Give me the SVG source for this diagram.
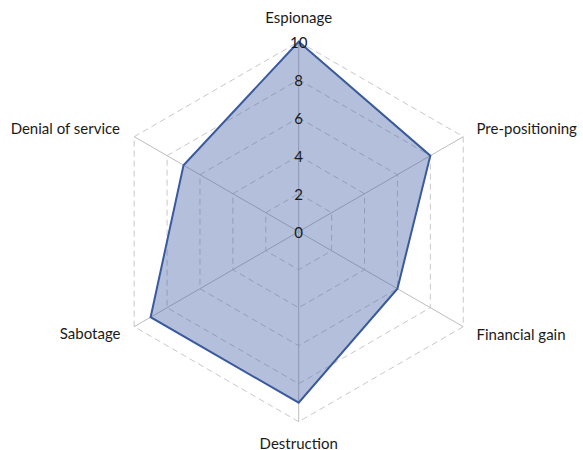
<svg xmlns="http://www.w3.org/2000/svg" width="583" height="450" viewBox="0 0 583 450">
<style>
.ring{fill:none;stroke:#c8c8c8;stroke-width:1;stroke-dasharray:6,4}
.spoke{stroke:#bdbdbd;stroke-width:1;fill:none}
.tick{font-family:Lato,"Open Sans","Liberation Sans",sans-serif;font-size:15px;fill:#1a1a1a;text-anchor:middle;dominant-baseline:central}
.lbl{font-family:Lato,"Open Sans","Liberation Sans",sans-serif;font-size:15px;fill:#1a1a1a}
.data{fill:#415fa5;fill-opacity:0.4;stroke:#3a5a9e;stroke-width:2;stroke-linejoin:miter}
</style>
<rect width="583" height="450" fill="#fff"/>
<g id="grid">
<polygon class="ring" points="298.7,193.7 331.61,212.7 331.61,250.7 298.7,269.7 265.79,250.7 265.79,212.7"/>
<polygon class="ring" points="298.7,155.7 364.52,193.7 364.52,269.7 298.7,307.7 232.88,269.7 232.88,193.7"/>
<polygon class="ring" points="298.7,117.7 397.43,174.7 397.43,288.7 298.7,345.7 199.97,288.7 199.97,174.7"/>
<polygon class="ring" points="298.7,79.7 430.33,155.7 430.33,307.7 298.7,383.7 167.07,307.7 167.07,155.7"/>
<polygon class="ring" points="298.7,41.7 463.24,136.7 463.24,326.7 298.7,421.7 134.16,326.7 134.16,136.7"/>
</g>
<g id="connectors">
<line class="spoke" x1="298.7" y1="231.7" x2="298.7" y2="41.7"/>
<line class="spoke" x1="298.7" y1="231.7" x2="463.24" y2="136.7"/>
<line class="spoke" x1="298.7" y1="231.7" x2="463.24" y2="326.7"/>
<line class="spoke" x1="298.7" y1="231.7" x2="298.7" y2="421.7"/>
<line class="spoke" x1="298.7" y1="231.7" x2="134.16" y2="326.7"/>
<line class="spoke" x1="298.7" y1="231.7" x2="134.16" y2="136.7"/>
</g>
<g id="series">
<polygon class="data" points="298.7,41.7 430.33,155.7 397.43,288.7 298.7,402.7 150.61,317.2 183.52,165.2"/>
</g>
<g id="ticks">
<text class="tick" x="298.7" y="231.7">0</text>
<text class="tick" x="298.7" y="193.7">2</text>
<text class="tick" x="298.7" y="155.7">4</text>
<text class="tick" x="298.7" y="117.7">6</text>
<text class="tick" x="298.7" y="79.7">8</text>
<text class="tick" x="298.7" y="41.7">10</text>
</g>
<g id="espionage"><text class="lbl" x="298.7" y="23" text-anchor="middle">Espionage</text></g>
<g id="pre-positioning"><text class="lbl" x="476.5" y="133.5">Pre-positioning</text></g>
<g id="financial-gain"><text class="lbl" x="476.5" y="339.5">Financial gain</text></g>
<g id="destruction"><text class="lbl" x="298.7" y="448.5" text-anchor="middle">Destruction</text></g>
<g id="sabotage"><text class="lbl" x="120.5" y="338.5" text-anchor="end">Sabotage</text></g>
<g id="denial-of-service"><text class="lbl" x="120" y="133.5" text-anchor="end">Denial of service</text></g>
</svg>
